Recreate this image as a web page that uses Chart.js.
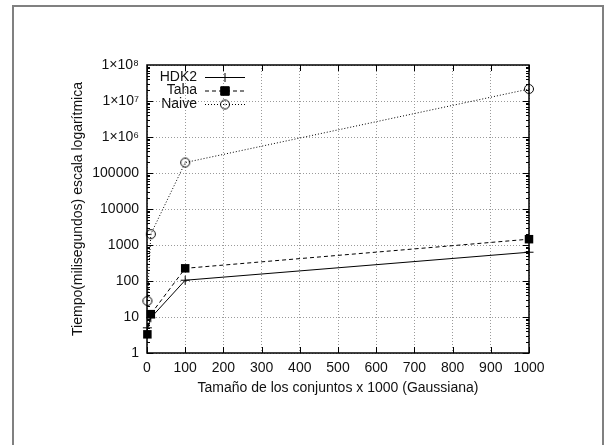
<!DOCTYPE html>
<html>
<head>
<meta charset="utf-8">
<script src="https://cdn.jsdelivr.net/npm/chart.js@4/dist/chart.umd.min.js"></script>
<style>
  html, body { margin: 0; padding: 0; background: #fff; }
  #wrap { width: 605px; height: 445px; }
</style>
</head>
<body>
<div id="wrap"><canvas id="myChart" width="605" height="445"></canvas></div>
<script>
'use strict';

// data (x = set size in thousands)
const sizes = [1, 10, 100, 1000];
const hdk2 = [5, 9.5, 105, 630];
const taha = [3.3, 12, 225, 1450];
const naive = [28, 2000, 195000, 21500000];

const xTicks = [0, 100, 200, 300, 400, 500, 600, 700, 800, 900, 1000];
const yTicks = [1, 10, 100, 1000, 10000, 100000, 1e6, 1e7, 1e8];
const yTickLabels = ['1', '10', '100', '1000', '10000', '100000', '1×10⁶', '1×10⁷', '1×10⁸'];

const seriesNames = ['HDK2', 'Taha', 'Naive'];
const font = 'Liberation Sans, Arial, sans-serif';

// open circle with a dot, like gnuplot's point type 6
const circleDot = document.createElement('canvas');
circleDot.width = 12;
circleDot.height = 12;
const cd = circleDot.getContext('2d');
cd.strokeStyle = '#000';
cd.lineWidth = 1;
cd.beginPath();
cd.arc(6, 6, 4.5, 0, Math.PI * 2);
cd.stroke();
cd.fillStyle = '#000';
cd.fillRect(5.5, 5.5, 1, 1);

function toPoints(values) {
    return sizes.map((s, i) => ({ x: s, y: values[i] }));
}

const framePlugin = {
    id: 'frame',
    beforeDatasetsDraw(chart) {
        const { ctx, chartArea: a, scales: { x, y } } = chart;
        ctx.save();
        ctx.strokeStyle = '#000';
        ctx.lineWidth = 1;
        ctx.beginPath();
        xTicks.forEach(v => {
            const px = Math.round(x.getPixelForValue(v)) + 0.5;
            ctx.moveTo(px, a.bottom);
            ctx.lineTo(px, a.bottom - 6);
            ctx.moveTo(px, a.top);
            ctx.lineTo(px, a.top + 6);
        });
        for (let d = 0; d < 8; d++) {
            for (let m = 1; m <= 9; m++) {
                const py = Math.round(y.getPixelForValue(m * Math.pow(10, d))) + 0.5;
                const len = m === 1 ? 6 : 3;
                ctx.moveTo(a.left, py);
                ctx.lineTo(a.left + len, py);
                ctx.moveTo(a.right, py);
                ctx.lineTo(a.right - len, py);
            }
        }
        ctx.stroke();
        ctx.lineWidth = 1.5;
        ctx.strokeRect(a.left, a.top, a.right - a.left, a.bottom - a.top);
        ctx.restore();
    },
    afterDraw(chart) {
        const { ctx, chartArea: a } = chart;
        ctx.save();
        // page border
        ctx.strokeStyle = '#808080';
        ctx.lineWidth = 2;
        ctx.strokeRect(13, 6, 590, 470);

        ctx.fillStyle = '#111';
        ctx.font = '14px ' + font;
        ctx.textAlign = 'center';
        ctx.textBaseline = 'middle';
        ctx.fillText('Tamaño de los conjuntos x 1000 (Gaussiana)', (a.left + a.right) / 2, 388);
        ctx.save();
        ctx.translate(78, (a.top + a.bottom) / 2);
        ctx.rotate(-Math.PI / 2);
        ctx.fillText('Tiempo(milisegundos) escala logarítmica', 0, 0);
        ctx.restore();

        // key in the top left corner
        chart.data.datasets.forEach((ds, i) => {
            const ly = 77 + i * 13.5;
            ctx.textAlign = 'right';
            ctx.fillStyle = '#111';
            ctx.fillText(ds.label, 197, ly);
            ctx.strokeStyle = '#000';
            ctx.lineWidth = 1;
            ctx.setLineDash(ds.borderDash || []);
            ctx.beginPath();
            ctx.moveTo(205, ly + 0.5);
            ctx.lineTo(245, ly + 0.5);
            ctx.stroke();
            ctx.setLineDash([]);
            ctx.fillStyle = '#000';
            Chart.helpers.drawPoint(ctx, {
                pointStyle: ds.pointStyle,
                radius: ds.pointRadius,
                borderWidth: 1,
                rotation: 0
            }, 225, ly + 0.5);
            if (ds.pointStyle === 'rect') {
                ctx.fill();
            }
        });
        ctx.restore();
    }
};

Chart.defaults.font.family = font;
Chart.defaults.font.size = 14;
Chart.defaults.color = '#111';

new Chart(document.getElementById('myChart'), {
    type: 'line',
    data: {
        datasets: [{
            label: seriesNames[0],
            data: toPoints(hdk2),
            borderColor: '#000',
            borderWidth: 1,
            pointStyle: 'cross',
            pointRadius: 4.5,
            pointBorderColor: '#000',
            pointBorderWidth: 1
        }, {
            label: seriesNames[1],
            data: toPoints(taha),
            borderColor: '#000',
            borderWidth: 1,
            borderDash: [4, 3],
            pointStyle: 'rect',
            pointRadius: 6,
            pointBackgroundColor: '#000',
            pointBorderColor: '#000',
            pointBorderWidth: 0
        }, {
            label: seriesNames[2],
            data: toPoints(naive),
            borderColor: '#000',
            borderWidth: 1,
            borderDash: [1, 2],
            pointStyle: circleDot,
            pointRadius: 5
        }]
    },
    options: {
        responsive: false,
        animation: false,
        clip: false,
        layout: { padding: { left: 0, right: 76, top: 65, bottom: 0 } },
        plugins: {
            legend: { display: false },
            tooltip: { enabled: false }
        },
        scales: {
            x: {
                type: 'linear',
                min: 0,
                max: 1000,
                afterFit: s => { s.height = 92; },
                afterBuildTicks: s => { s.ticks = xTicks.map(v => ({ value: v })); },
                ticks: {
                    padding: 7,
                    maxRotation: 0,
                    autoSkip: false,
                    callback: v => String(v)
                },
                grid: { color: '#9a9a9a', drawTicks: false },
                border: { display: false, dash: [1, 2] }
            },
            y: {
                type: 'logarithmic',
                min: 1,
                max: 1e8,
                afterFit: s => { s.width = 147; },
                afterBuildTicks: s => { s.ticks = yTicks.map(v => ({ value: v })); },
                ticks: {
                    padding: 8,
                    autoSkip: false,
                    callback: v => yTickLabels[yTicks.indexOf(v)]
                },
                grid: { color: '#9a9a9a', drawTicks: false },
                border: { display: false, dash: [1, 2] }
            }
        }
    },
    plugins: [framePlugin]
});
</script>
</body>
</html>
